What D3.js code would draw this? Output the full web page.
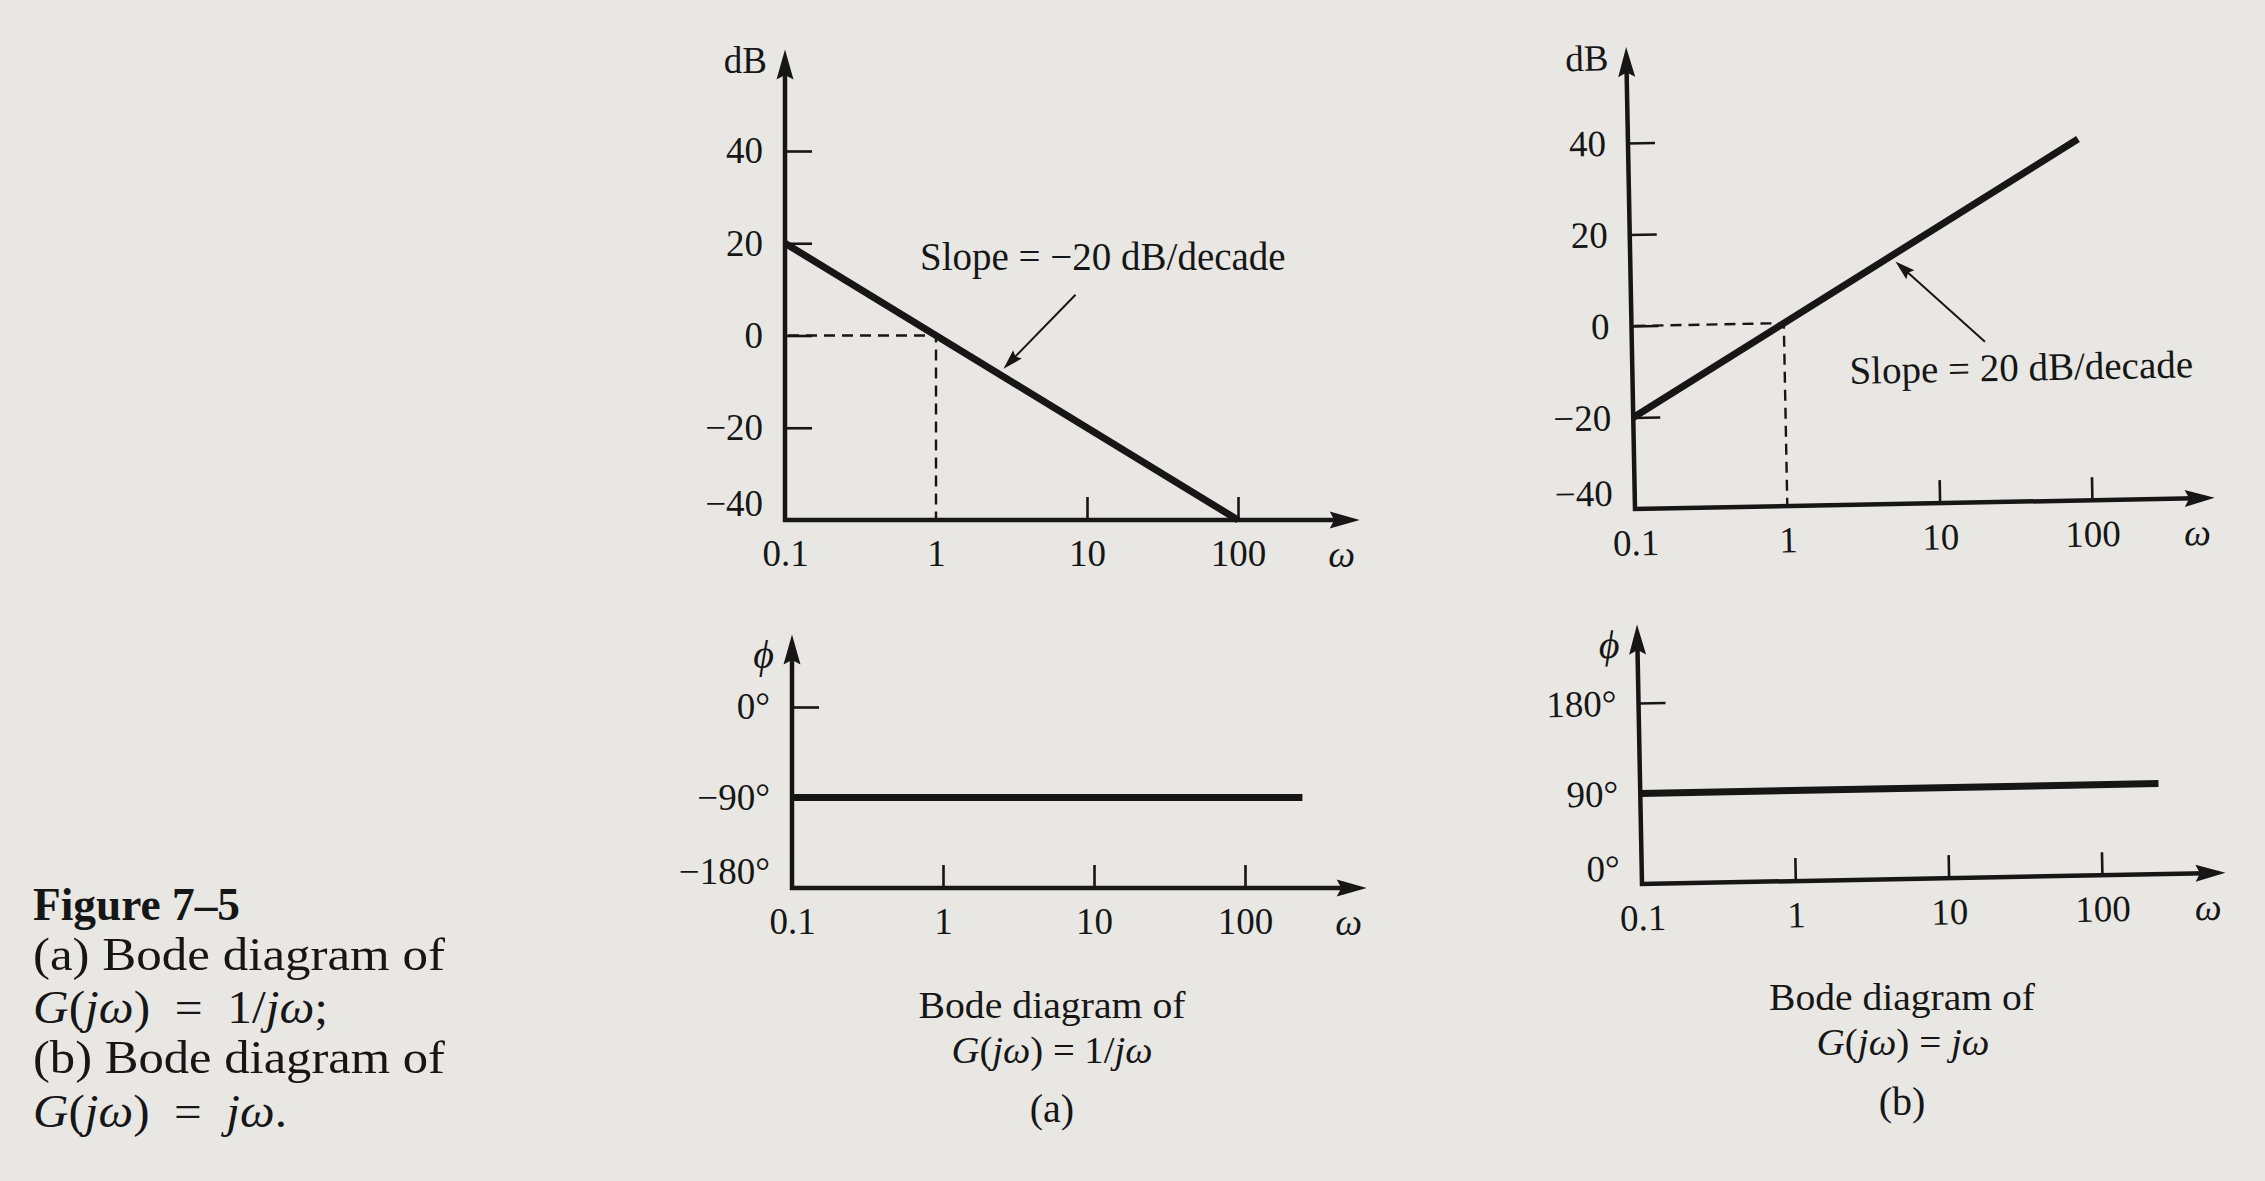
<!DOCTYPE html>
<html><head><meta charset="utf-8">
<script src="https://cdn.jsdelivr.net/npm/d3@7"></script>
<style>
html,body{margin:0;padding:0;background:#e9e7e3;}
svg{display:block;}
</style></head><body>
<svg id="chart" width="2265" height="1181"></svg>
<script>
// ---------- data ----------
const freqTicks  = [0.1, 1, 10, 100];
const freqLabels = ["0.1", "1", "10", "100"];
const magTicks   = [-40, -20, 0, 20, 40];
const phaseTicksA = [-180, -90, 0];
const phaseTicksB = [0, 90, 180];
// asymptotes (ω, value)
const magA   = [{w: 0.1, v: 20},  {w: 100, v: -40}];
const magB   = [{w: 0.1, v: -20}, {w: 90,  v: 39}];
const phaseA = [{w: 0.1, v: -90}, {w: 240, v: -90}];
const phaseB = [{w: 0.1, v: 90},  {w: 240, v: 90}];
const crossing = {w: 1, v: 0};           // 0 dB at ω = 1
const slopeTextA = "Slope = \u221220 dB/decade";
const slopeTextB = "Slope = 20 dB/decade";
const slopePointA = 2.8;                  // ω where the arrow points
const slopePointB = 5.5;

// ---------- style ----------
const ink = "#161616";
const serif = "'Liberation Serif','Times New Roman',serif";
const svg = d3.select("#chart");
const minus = s => String(s).replace("-", "\u2212");

const panels = [
  { x0: 785, x100: 1238, yRef: [[40, 151], [-40, 520]], yMin: -40, yTopVal: 62,
    ticks: magTicks, fmt: d => minus(d), data: magA, guide: true, yLab: "dB",
    labItalic: false, rot: 0, slope: {text: slopeTextA, w: slopePointA, tx: 920, ty: 270, dx: 72, dy: -74} },
  { x0: 792, x100: 1245, yRef: [[0, 707], [-180, 888]], yMin: -180, yTopVal: 72,
    ticks: phaseTicksA, fmt: d => minus(d) + "\u00b0", data: phaseA, guide: false, yLab: "\u03d5",
    labItalic: true, rot: 0 },
  { x0: 1635, x100: 2092, yRef: [[40, 143], [-40, 509]], yMin: -40, yTopVal: 61,
    ticks: magTicks, fmt: d => minus(d), data: magB, guide: true, yLab: "dB",
    labItalic: false, rot: -1.1, slope: {text: slopeTextB, w: slopePointB, tx: 1852, ty: 388, dx: 88, dy: 82} },
  { x0: 1642, x100: 2102, yRef: [[180, 703], [0, 884]], yMin: 0, yTopVal: 258,
    ticks: phaseTicksB, fmt: d => d + "\u00b0", data: phaseB, guide: false, yLab: "\u03d5",
    labItalic: true, rot: -1.1 }
];

function arrowHead(g, tipX, tipY, dirX, dirY, len, half) {
  const px = -dirY, py = dirX;
  const bx = tipX - dirX * len, by = tipY - dirY * len;
  g.append("path")
    .attr("d", `M${tipX},${tipY}L${bx + px * half},${by + py * half}L${bx + dirX*len*0.15},${by + dirY*len*0.15}L${bx - px * half},${by - py * half}Z`)
    .attr("fill", ink);
}

panels.forEach(c => {
  const x = d3.scaleLog().domain([0.1, 100]).range([c.x0, c.x100]);
  const y = d3.scaleLinear().domain([c.yRef[0][0], c.yRef[1][0]]).range([c.yRef[0][1], c.yRef[1][1]]);
  const axY = y(c.yMin), axX = x(0.1);
  const g = svg.append("g");
  if (c.rot) g.attr("transform", `rotate(${c.rot},${axX},${axY})`);

  // x ticks and labels
  const xa = d3.axisBottom(x).tickValues(freqTicks).tickFormat((d, i) => freqLabels[i])
    .tickSizeInner(-23).tickSizeOuter(0).tickPadding(20);
  const gx = g.append("g").attr("transform", `translate(0,${axY})`).call(xa);
  gx.select(".domain").remove();
  gx.attr("font-family", serif).attr("font-size", 37);
  gx.selectAll(".tick line").attr("stroke", ink).attr("stroke-width", 2.6)
    .filter(d => d === 0.1 || (c.guide && d === 1)).remove();
  gx.selectAll(".tick text").attr("fill", ink);

  // y ticks and labels
  const ya = d3.axisLeft(y).tickValues(c.ticks).tickFormat(c.fmt)
    .tickSizeInner(-27).tickSizeOuter(0).tickPadding(22);
  const gy = g.append("g").attr("transform", `translate(${axX},0)`).call(ya);
  gy.select(".domain").remove();
  gy.attr("font-family", serif).attr("font-size", 37);
  gy.selectAll(".tick line").attr("stroke", ink).attr("stroke-width", 2.6)
    .filter(d => d === c.yMin).remove();
  gy.selectAll(".tick text").attr("fill", ink)
    .filter(d => d === c.yMin).attr("y", -16);

  // axes with arrows
  const wMax = 640;
  const tipX = x(wMax), tipY = y(c.yTopVal);
  g.append("line").attr("x1", axX - 2).attr("y1", axY).attr("x2", tipX - 20).attr("y2", axY)
    .attr("stroke", ink).attr("stroke-width", 4.5);
  arrowHead(g, tipX, axY, 1, 0, 30, 8.5);
  g.append("line").attr("x1", axX).attr("y1", axY + 2).attr("x2", axX).attr("y2", tipY + 20)
    .attr("stroke", ink).attr("stroke-width", 4.5);
  arrowHead(g, axX, tipY, 0, -1, 30, 8.5);

  // axis titles
  g.append("text").attr("x", tipX - 18).attr("y", axY + 20).attr("dy", "0.71em")
    .attr("text-anchor", "middle").attr("font-family", serif).attr("font-size", 38)
    .attr("font-style", "italic").attr("fill", ink).text("\u03c9");
  g.append("text").attr("x", axX - (c.labItalic ? 18 : 18)).attr("y", tipY + (c.labItalic ? 33 : 23))
    .attr("text-anchor", "end").attr("font-family", serif).attr("font-size", c.labItalic ? 40 : 37)
    .attr("font-style", c.labItalic ? "italic" : "normal").attr("fill", ink).text(c.yLab);

  // dashed guides at 0 dB / ω = 1
  if (c.guide) {
    g.append("path")
      .attr("d", `M${axX + 3},${y(crossing.v)}H${x(crossing.w)}V${axY - 2}`)
      .attr("fill", "none").attr("stroke", ink).attr("stroke-width", 2.4)
      .attr("stroke-dasharray", "11,7");
  }

  // asymptote line
  const line = d3.line().x(d => x(d.w)).y(d => y(d.v));
  g.append("path").datum(c.data).attr("d", line)
    .attr("fill", "none").attr("stroke", ink).attr("stroke-width", 7);

  // slope annotation
  if (c.slope) {
    const s = c.slope;
    const first = c.data[0], last = c.data[c.data.length - 1];
    const t = (Math.log10(s.w) - Math.log10(first.w)) / (Math.log10(last.w) - Math.log10(first.w));
    const v = first.v + t * (last.v - first.v);
    const px = x(s.w), py = y(v) + (s.dy < 0 ? -8 : 8);
    const len = Math.hypot(s.dx, s.dy);
    const ux = -s.dx / len, uy = -s.dy / len;
    g.append("line").attr("x1", px + s.dx).attr("y1", py + s.dy).attr("x2", px - ux * 14).attr("y2", py - uy * 14)
      .attr("stroke", ink).attr("stroke-width", 2);
    arrowHead(g, px, py, ux, uy, 20, 6);
    g.append("text").attr("x", s.tx).attr("y", s.ty).attr("font-family", serif).attr("font-size", 39)
      .attr("fill", ink).text(s.text);
  }
});

// ---------- captions ----------
function richText(xp, yp, segs, size, anchor, len, weight) {
  const t = svg.append("text").attr("x", xp).attr("y", yp).attr("font-family", serif)
    .attr("font-size", size).attr("fill", ink).attr("text-anchor", anchor || "start")
    .attr("xml:space", "preserve");
  if (weight) t.attr("font-weight", weight);
  segs.forEach(s => {
    t.append("tspan").attr("font-style", s.i ? "italic" : "normal").text(s.t);
  });
  if (len) t.attr("textLength", len).attr("lengthAdjust", "spacingAndGlyphs");
  return t;
}
const I = s => ({t: s, i: true}), R = s => ({t: s, i: false});

// panel captions
richText(1052, 1018, [R("Bode diagram of")], 38, "middle", 267);
richText(1052, 1063, [I("G"), R("("), I("j\u03c9"), R(") = 1/"), I("j\u03c9")], 38, "middle", 201);
richText(1052, 1122, [R("(a)")], 40, "middle");
richText(1902, 1010, [R("Bode diagram of")], 38, "middle", 266);
richText(1903, 1055, [I("G"), R("("), I("j\u03c9"), R(") = "), I("j\u03c9")], 38, "middle", 173);
richText(1902, 1115, [R("(b)")], 40, "middle");

// figure caption
richText(33, 920, [R("Figure 7\u20135")], 46, "start", 207, "bold");
richText(33, 970, [R("(a) Bode diagram of")], 46, "start", 412);
richText(33, 1023, [I("G"), R("("), I("j\u03c9"), R(")  =  1/"), I("j\u03c9"), R(";")], 46, "start", 295);
richText(33, 1073, [R("(b) Bode diagram of")], 46, "start", 412);
richText(33, 1127, [I("G"), R("("), I("j\u03c9"), R(")  =  "), I("j\u03c9"), R(".")], 46, "start", 254);
</script>
</body></html>
